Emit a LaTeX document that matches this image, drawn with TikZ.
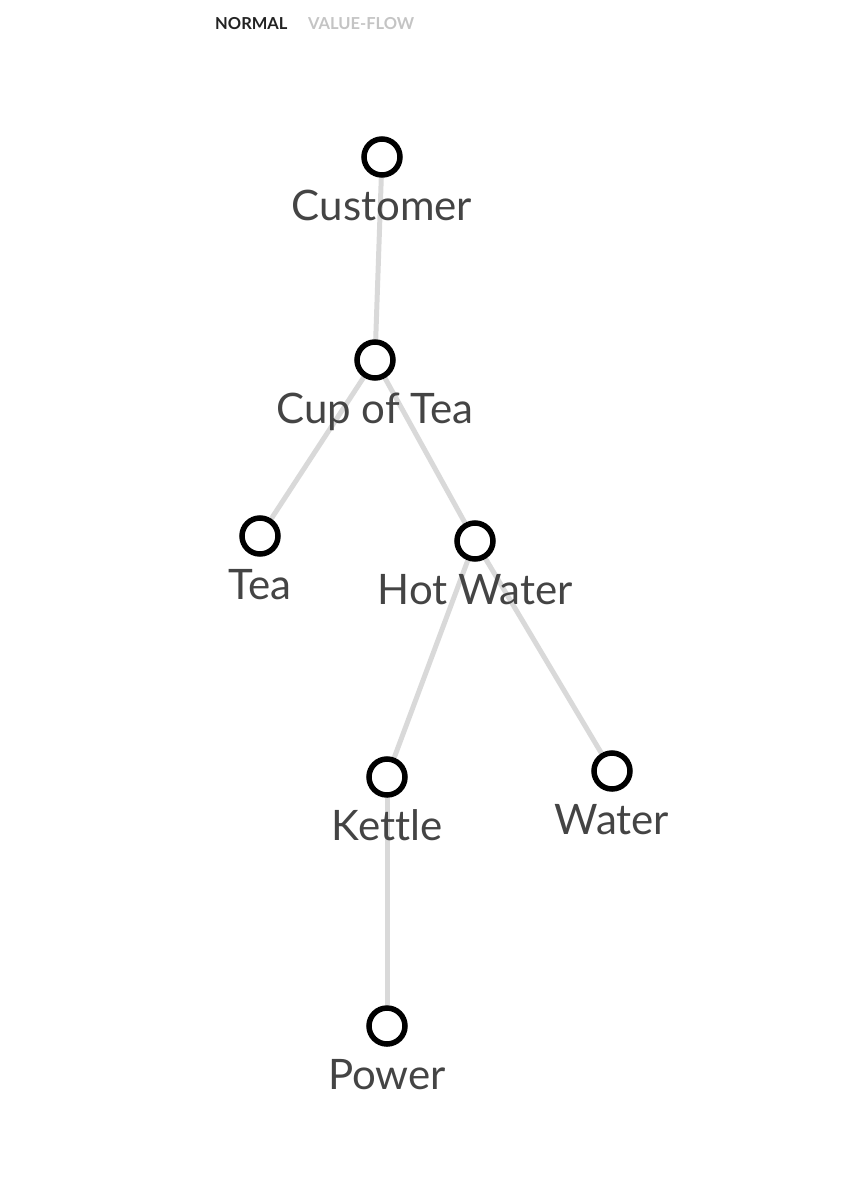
\documentclass[tikz,border=0pt]{standalone}
\usepackage{fontspec}
\setmainfont[Ligatures=NoCommon]{Lato}
\usetikzlibrary{backgrounds}
\definecolor{edgegrey}{HTML}{D9D9D9}
\definecolor{labelgrey}{HTML}{444444}
\definecolor{tabdark}{HTML}{222222}
\definecolor{tablight}{HTML}{C4C4C4}
\begin{document}
\begin{tikzpicture}[x=1pt,y=-1pt,
  dot/.style={circle,draw=black,line width=5.5pt,fill=white,minimum size=36pt,inner sep=0pt},
  lbl/.style={text=labelgrey,font=\fontsize{42}{46}\selectfont,inner sep=0pt,anchor=base},
  edge/.style={draw=edgegrey,line width=5pt},
  tab/.style={font=\fontsize{16.5}{19}\selectfont\bfseries,inner sep=0pt,anchor=base west}]
\useasboundingbox (0,0) rectangle (848,1200);
\node[tab,text=tabdark] (normal) at (215,29) {NORMAL};
\node[tab,text=tablight] (valueflow) at (308,29) {VALUE-FLOW};

\node[dot] (customer) at (382,157) {};
\node[lbl] (customerL) at (382,220) {Customer};
\node[dot] (cup) at (375,360) {};
\node[lbl] (cupL) at (375,423) {Cup of Tea};
\node[dot] (tea) at (260,536) {};
\node[lbl] (teaL) at (260,599) {Tea};
\node[dot] (hot) at (475,541) {};
\node[lbl] (hotL) at (475,604) {Hot Water};
\node[dot] (kettle) at (387,777) {};
\node[lbl] (kettleL) at (387,840) {Ket{}tle};
\node[dot] (water) at (612,771) {};
\node[lbl] (waterL) at (612,834) {Water};
\node[dot] (power) at (387,1026) {};
\node[lbl] (powerL) at (387,1089) {Power};

\begin{scope}[on background layer]
\draw[edge] (customer) -- (cup);
\draw[edge] (cup) -- (tea);
\draw[edge] (cup) -- (hot);
\draw[edge] (hot) -- (kettle);
\draw[edge] (hot) -- (water);
\draw[edge] (kettle) -- (power);
\end{scope}
\end{tikzpicture}
\end{document}
